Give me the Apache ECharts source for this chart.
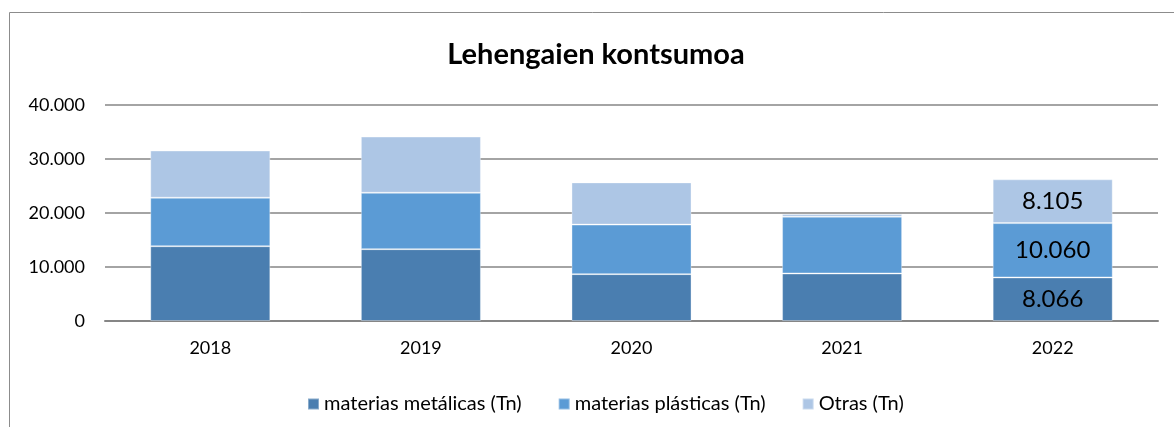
<!DOCTYPE html>
<html>
<head>
<meta charset="utf-8">
<script src="https://cdn.jsdelivr.net/npm/echarts@6/dist/echarts.min.js"></script>
<style>
    html, body { margin: 0; padding: 0; background: #fff; }
    #chart { width: 1174px; height: 427px; }
</style>
</head>
<body>
<div id="chart"></div>
<script>
// datos
const years = ['2018', '2019', '2020', '2021', '2022'];
const metalicas = [13850, 13300, 8680, 8800, 8066];
const plasticas = [8980, 10450, 9170, 10520, 10060];
const otras = [8740, 10400, 7820, 490, 8105];
const yTicks = [0, 10000, 20000, 30000, 40000];

// solo 2022 lleva etiqueta
const labelledYear = '2022';

const fontFamily = 'Lato, "Open Sans", sans-serif';
const fmt = v => v.toLocaleString('de-DE');

const makeSeries = (name, values, color) => ({
    name: name,
    type: 'bar',
    stack: 'total',
    barWidth: '57%',
    itemStyle: {
        color: color,
        borderColor: 'rgba(255,255,255,0.35)',
        borderWidth: 1
    },
    label: {
        show: true,
        position: 'inside',
        fontFamily: fontFamily,
        fontSize: 24,
        color: '#000',
        formatter: p => (p.name === labelledYear ? fmt(p.value) : '')
    },
    data: values
});

const chart = echarts.init(document.getElementById('chart'));

chart.setOption({
    backgroundColor: '#fff',
    animation: false,
    textStyle: { fontFamily: fontFamily },
    title: {
        text: 'Lehengaien kontsumoa',
        left: 591,
        textAlign: 'center',
        top: 35,
        textStyle: {
            fontFamily: fontFamily,
            fontSize: 29,
            fontWeight: 'bold',
            color: '#000'
        }
    },
    graphic: [{
        type: 'rect',
        shape: { x: 9.5, y: 12.5, width: 1300, height: 600 },
        style: { fill: 'none', stroke: '#8c8c8c', lineWidth: 1 },
        silent: true
    }],
    legend: {
        left: 302,
        top: 389,
        itemWidth: 11,
        itemHeight: 11,
        itemGap: 36,
        icon: 'rect',
        textStyle: { fontFamily: fontFamily, fontSize: 20, color: '#000' },
        data: ['materias metálicas (Tn)', 'materias plásticas (Tn)', 'Otras (Tn)']
    },
    grid: {
        left: 105,
        right: 16,
        top: 105,
        bottom: 106
    },
    xAxis: {
        type: 'category',
        data: years,
        axisLine: { lineStyle: { color: '#868686', width: 2 } },
        axisTick: { show: false },
        axisLabel: {
            fontFamily: fontFamily,
            fontSize: 18,
            color: '#000',
            margin: 18
        }
    },
    yAxis: {
        type: 'value',
        min: yTicks[0],
        max: yTicks[yTicks.length - 1],
        interval: 10000,
        axisLine: { show: false },
        axisTick: { show: false },
        splitLine: { lineStyle: { color: '#868686', width: 1.5 } },
        axisLabel: {
            fontFamily: fontFamily,
            fontSize: 18,
            color: '#000',
            margin: 20,
            formatter: v => fmt(v)
        }
    },
    series: [
        makeSeries('materias metálicas (Tn)', metalicas, '#4a7eb0'),
        makeSeries('materias plásticas (Tn)', plasticas, '#5b9bd5'),
        makeSeries('Otras (Tn)', otras, '#adc6e5')
    ]
});
</script>
</body>
</html>
